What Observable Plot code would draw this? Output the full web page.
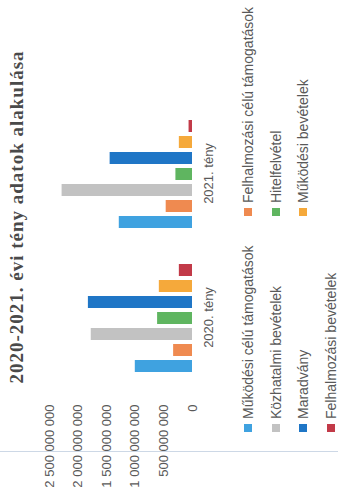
<!DOCTYPE html>
<html>
<head>
<meta charset="utf-8">
<script src="https://cdn.jsdelivr.net/npm/d3@7"></script>
<script src="https://cdn.jsdelivr.net/npm/@observablehq/plot@0.6"></script>
<style>
  html, body { margin: 0; padding: 0; background: #fff; overflow: hidden; }
  #page { width: 338px; height: 504px; position: relative; overflow: hidden; background: #fff; }
  #chart {
    position: absolute; left: 0; top: 0; width: 504px; height: 338px;
    transform-origin: 0 0; transform: translate(0, 504px) rotate(-90deg);
    font-family: "Liberation Sans", Arial, sans-serif;
  }
  #title {
    position: absolute; left: 87px; top: 6px; width: 400px; text-align: center;
    font-family: "Liberation Serif", "DejaVu Serif", serif; font-weight: bold;
    font-size: 19px; letter-spacing: 1px; color: #4a4a4a; white-space: nowrap;
  }
  #plot { position: absolute; left: 0; top: 38px; }
  #legend {
    position: absolute; left: 72px; top: 234px;
    display: grid; grid-template-columns: 216px auto; grid-auto-rows: 27.8px;
    font-size: 14px; color: #595959;
  }
  .item { display: flex; align-items: center; white-space: nowrap; }
  .sw { width: 8px; height: 8px; margin-right: 5px; flex: none; }
  #fold { position: absolute; left: 52px; top: 0; width: 1px; height: 338px; background: #cdd8e6; }
</style>
</head>
<body>
<div id="page">
  <div id="chart">
    <div id="fold"></div>
    <div id="title"></div>
    <div id="plot"></div>
    <div id="legend"></div>
  </div>
</div>
<script>
const titleText = "2020-2021. évi tény adatok alakulása";
const years = ["2020. tény", "2021. tény"];
const series = [
  "Működési célú támogatások",
  "Felhalmozási célú támogatások",
  "Közhatalmi bevételek",
  "Hitelfelvétel",
  "Maradvány",
  "Működési bevételek",
  "Felhalmozási bevételek"
];
const values2020 = [1.0e9, 0.33e9, 1.77e9, 0.61e9, 1.82e9, 0.58e9, 0.23e9];
const values2021 = [1.28e9, 0.46e9, 2.28e9, 0.29e9, 1.44e9, 0.23e9, 0.06e9];
const colors = ["#3fa2e0", "#ef8a50", "#c2c2c2", "#5fb560", "#1f76c6", "#f5a93b", "#c23a48"];
const yTicks = [0, 5e8, 1e9, 1.5e9, 2e9, 2.5e9];

const data = [];
series.forEach((s, i) => {
  data.push({year: years[0], series: s, value: values2020[i]});
  data.push({year: years[1], series: s, value: values2021[i]});
});

const fmt = d => d3.format(",")(d).replace(/,/g, " ");

const chart = Plot.plot({
  width: 504,
  height: 190,
  marginTop: 11,
  marginBottom: 36,
  marginLeft: 114,
  marginRight: 102,
  style: {fontFamily: "Liberation Sans, Arial, sans-serif", fontSize: "13px", color: "#595959", background: "transparent"},
  fx: {domain: years, padding: 0, tickSize: 0, tickPadding: 11, label: null},
  x: {domain: series, paddingInner: 0.22, paddingOuter: 0.9, axis: null},
  y: {domain: [0, 2.5e9], ticks: yTicks, tickFormat: fmt, tickSize: 0, tickPadding: 15, label: null},
  color: {domain: series, range: colors},
  marks: [
    Plot.barY(data, {fx: "year", x: "series", y: "value", fill: "series"})
  ]
});
document.getElementById("plot").appendChild(chart);
document.getElementById("title").textContent = titleText;

const legend = document.getElementById("legend");
series.forEach((s, i) => {
  const it = document.createElement("div");
  it.className = "item";
  const sw = document.createElement("span");
  sw.className = "sw";
  sw.style.background = colors[i];
  const t = document.createElement("span");
  t.textContent = s;
  it.appendChild(sw);
  it.appendChild(t);
  legend.appendChild(it);
});
</script>
</body>
</html>
